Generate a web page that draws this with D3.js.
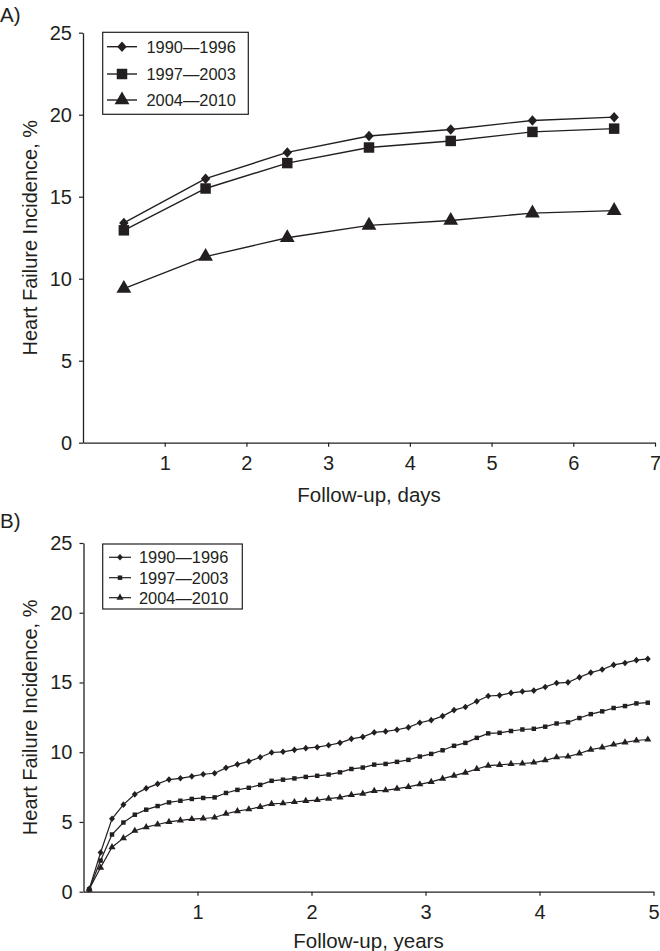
<!DOCTYPE html>
<html>
<head>
<meta charset="utf-8">
<script src="https://cdn.jsdelivr.net/npm/d3@7"></script>
<style>
  html, body { margin: 0; padding: 0; background: #fff; }
  svg text { font-family: "Liberation Sans", Arial, sans-serif; fill: #231f20; }
</style>
</head>
<body>
<svg id="chart" width="660" height="951"></svg>
<script>
// ---------- DATA ----------
const seriesNames = ["1990\u20141996", "1997\u20142003", "2004\u20142010"];

// Panel A: follow-up in days
const daysA = [0.5, 1.5, 2.5, 3.5, 4.5, 5.5, 6.5];
const a1990 = [13.4, 16.1, 17.7, 18.7, 19.1, 19.65, 19.85];
const a1997 = [12.95, 15.5, 17.05, 18.0, 18.4, 18.95, 19.15];
const a2004 = [9.4, 11.35, 12.5, 13.25, 13.55, 14.0, 14.15];
const xTicksA = [1, 2, 3, 4, 5, 6, 7];

// Panel B: follow-up in years
const yearsB = [0.05, 0.15, 0.25, 0.35, 0.45, 0.55, 0.65, 0.75, 0.85, 0.95,
                1.05, 1.15, 1.25, 1.35, 1.45, 1.55, 1.65, 1.75, 1.85, 1.95,
                2.05, 2.15, 2.25, 2.35, 2.45, 2.55, 2.65, 2.75, 2.85, 2.95,
                3.05, 3.15, 3.25, 3.35, 3.45, 3.55, 3.65, 3.75, 3.85, 3.95,
                4.05, 4.15, 4.25, 4.35, 4.45, 4.55, 4.65, 4.75, 4.85, 4.95];
const b1990 = [0.17, 2.81, 5.23, 6.24, 6.98, 7.41, 7.73, 8.04, 8.13, 8.27,
               8.42, 8.49, 8.88, 9.13, 9.34, 9.64, 9.98, 10.03, 10.17, 10.29,
               10.36, 10.5, 10.67, 10.96, 11.1, 11.42, 11.49, 11.61, 11.78, 12.11,
               12.3, 12.59, 13.02, 13.24, 13.65, 14.03, 14.08, 14.25, 14.35, 14.42,
               14.68, 14.96, 15.01, 15.37, 15.71, 15.93, 16.26, 16.4, 16.6, 16.69];
const b1997 = [0.17, 2.23, 4.1, 4.96, 5.52, 5.88, 6.14, 6.4, 6.52, 6.65,
               6.72, 6.76, 7.08, 7.3, 7.45, 7.66, 7.95, 8.03, 8.12, 8.23,
               8.31, 8.4, 8.56, 8.8, 8.9, 9.11, 9.16, 9.31, 9.45, 9.69,
               9.88, 10.14, 10.46, 10.67, 11.03, 11.35, 11.39, 11.52, 11.63, 11.68,
               11.83, 12.06, 12.14, 12.45, 12.73, 12.93, 13.17, 13.31, 13.5, 13.55];
const b2004 = [0.17, 1.73, 3.19, 3.84, 4.37, 4.63, 4.82, 5.01, 5.11, 5.21,
               5.25, 5.32, 5.59, 5.78, 5.91, 6.08, 6.29, 6.34, 6.43, 6.51,
               6.57, 6.67, 6.76, 6.94, 7.03, 7.23, 7.27, 7.39, 7.51, 7.7,
               7.87, 8.11, 8.32, 8.54, 8.8, 9.04, 9.09, 9.16, 9.19, 9.26,
               9.42, 9.64, 9.69, 9.91, 10.19, 10.34, 10.55, 10.7, 10.84, 10.91];
const xTicksB = [1, 2, 3, 4, 5];
const yTicks = [0, 5, 10, 15, 20, 25];

// ---------- DRAWING ----------
const svg = d3.select("#chart");
const ink = "#231f20";

const diamondSym = {
  draw(ctx, size) {
    const r = Math.sqrt(size / 2);
    ctx.moveTo(0, -r); ctx.lineTo(r * 0.9, 0); ctx.lineTo(0, r); ctx.lineTo(-r * 0.9, 0); ctx.closePath();
  }
};
const symbolTypes = [diamondSym, d3.symbolSquare, d3.symbolTriangle];

function panel(cfg) {
  const g = svg.append("g");
  const x = d3.scaleLinear().domain(cfg.xDomain).range(cfg.xRange);
  const y = d3.scaleLinear().domain([0, 25]).range(cfg.yRange);

  // y axis
  const ya = g.append("g").attr("transform", `translate(${cfg.xRange[0]},0)`)
    .call(d3.axisLeft(y).tickValues(yTicks).tickFormat(d3.format("d"))
      .tickSize(4).tickSizeOuter(0).tickPadding(7));
  // x axis
  const xa = g.append("g").attr("transform", `translate(0,${cfg.yRange[0]})`)
    .call(d3.axisBottom(x).tickValues(cfg.xTicks).tickFormat(d3.format("d"))
      .tickSize(4).tickSizeOuter(0).tickPadding(9));
  [ya, xa].forEach(a => {
    a.selectAll("path.domain").attr("stroke", ink).attr("stroke-width", 1.3);
    a.selectAll(".tick line").attr("stroke", ink).attr("stroke-width", 1.2);
    a.selectAll(".tick text").attr("fill", ink).style("font-size", "20px")
      .style("font-family", "'Liberation Sans', Arial, sans-serif");
  });

  // series
  cfg.series.forEach((vals, si) => {
    const pts = cfg.xs.map((xv, i) => [xv, vals[i]]);
    g.append("path").datum(pts)
      .attr("fill", "none").attr("stroke", ink).attr("stroke-width", cfg.lineW)
      .attr("d", d3.line().x(d => x(d[0])).y(d => y(d[1])));
    g.append("g").selectAll("path").data(pts).join("path")
      .attr("transform", d => `translate(${x(d[0])},${y(d[1])})`)
      .attr("fill", ink)
      .attr("d", d3.symbol().type(symbolTypes[si]).size(cfg.symSizes[si]));
  });

  // axis titles
  g.append("text").attr("x", (cfg.xRange[0] + cfg.xRange[1]) / 2).attr("y", cfg.xTitleY)
    .attr("text-anchor", "middle").style("font-size", "20.5px").text(cfg.xTitle);
  g.append("text")
    .attr("transform", `translate(37,${(cfg.yRange[0] + cfg.yRange[1]) / 2}) rotate(-90)`)
    .attr("text-anchor", "middle").style("font-size", "20px").text("Heart Failure Incidence, %");
  // panel label
  g.append("text").attr("x", 0).attr("y", cfg.labelY)
    .style("font-size", "20.5px").text(cfg.labelText);

  // legend
  const L = cfg.legend;
  g.append("rect").attr("x", L.x).attr("y", L.y).attr("width", L.w).attr("height", L.h)
    .attr("fill", "#fff").attr("stroke", ink).attr("stroke-width", 1.2);
  seriesNames.forEach((name, si) => {
    const yy = L.rows[si];
    g.append("line").attr("x1", L.lx1).attr("x2", L.lx2).attr("y1", yy).attr("y2", yy)
      .attr("stroke", ink).attr("stroke-width", cfg.lineW);
    g.append("path").attr("transform", `translate(${(L.lx1 + L.lx2) / 2},${yy})`)
      .attr("fill", ink).attr("d", d3.symbol().type(symbolTypes[si]).size(cfg.symSizes[si]));
    g.append("text").attr("x", L.tx).attr("y", yy).attr("dy", "0.36em")
      .style("font-size", "16.4px").text(name);
  });
}

panel({
  xDomain: [0, 7], xRange: [83, 655], yRange: [442.7, 32.7],
  xTicks: xTicksA, xs: daysA, series: [a1990, a1997, a2004],
  lineW: 1.4, symSizes: [55, 110, 95],
  xTitle: "Follow-up, days", xTitleY: 502,
  labelY: 22, labelText: "A)",
  legend: { x: 102.7, y: 32.3, w: 145.6, h: 82, rows: [46.7, 74, 100], lx1: 107, lx2: 137, tx: 146.5 }
});

panel({
  xDomain: [0, 5], xRange: [83.5, 653.5], yRange: [891.7, 543],
  xTicks: xTicksB, xs: yearsB, series: [b1990, b1997, b2004],
  lineW: 1.2, symSizes: [22, 20, 22],
  xTitle: "Follow-up, years", xTitleY: 948,
  labelY: 528, labelText: "B)",
  legend: { x: 102.7, y: 544, w: 139.6, h: 65, rows: [557.3, 577.7, 597.7], lx1: 109, lx2: 131, tx: 139 }
});
</script>
</body>
</html>
